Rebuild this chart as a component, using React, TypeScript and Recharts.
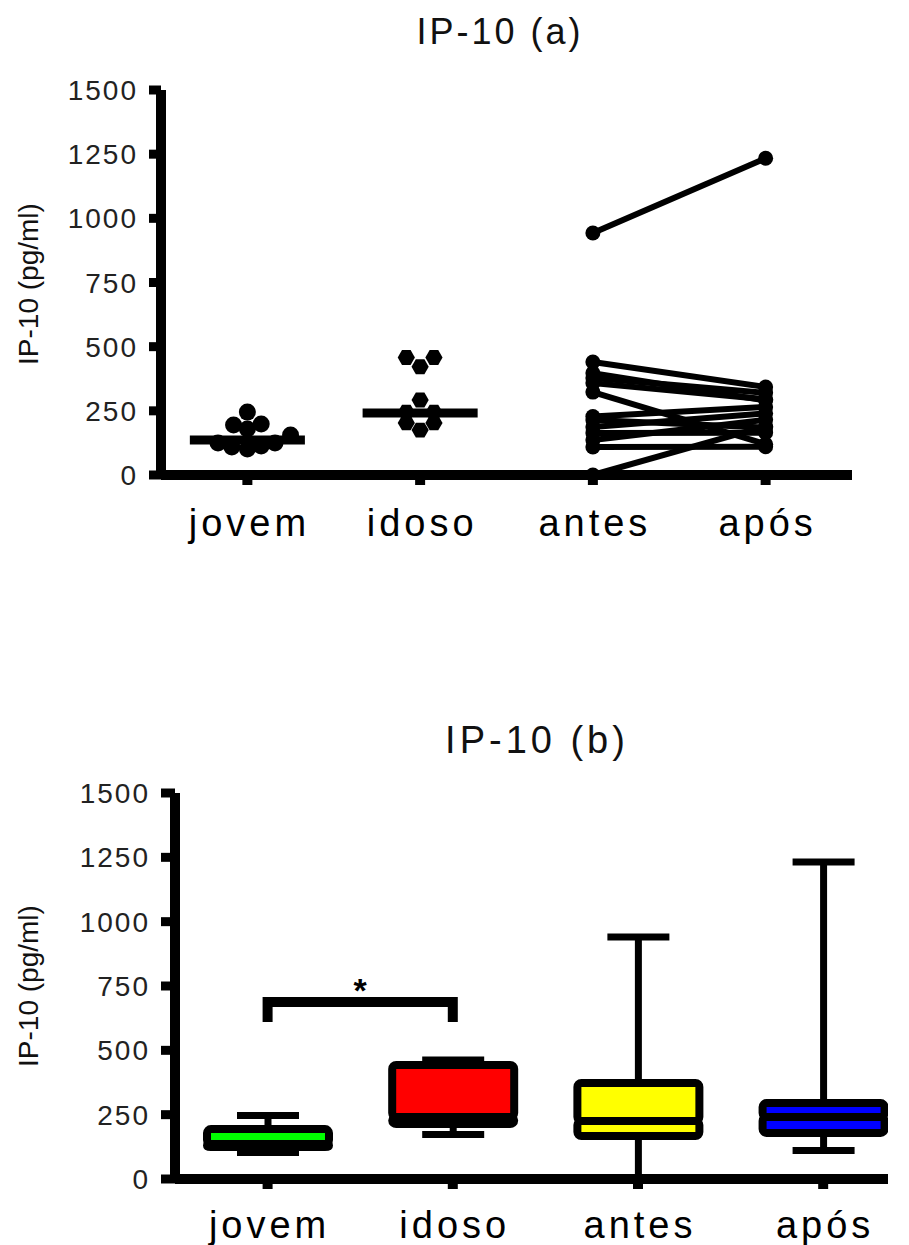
import React from 'react';
import {
  ComposedChart, Scatter, Bar, XAxis, YAxis, ReferenceLine, ReferenceDot,
} from 'recharts';

const FONT = '"Liberation Sans", Arial, sans-serif';

// Shared categories and axis ticks
const CATEGORIES = ['jovem', 'idoso', 'antes', 'após'];
const CAT_POS = [0.5, 1.5, 2.5, 3.5];
const Y_TICKS = [0, 250, 500, 750, 1000, 1250, 1500];

// (a) individual values, jittered around the category centre
const JOVEM_X = [0.5, 0.42, 0.5, 0.58, 0.33, 0.41, 0.5, 0.58, 0.66, 0.75];
const JOVEM_Y = [245, 195, 179, 199, 125, 109, 101, 113, 125, 156];
const IDOSO_X = [1.42, 1.58, 1.5, 1.5, 1.42, 1.58, 1.42, 1.58, 1.5];
const IDOSO_Y = [458, 458, 422, 292, 245, 245, 203, 203, 175];
const MEDIAN_A = [136, 242];

// (a) paired values antes -> após
const ANTES = [943, 440, 397, 378, 358, 323, 228, 214, 187, 164, 136, 109, 0];
const APOS = [1234, 343, 290, 320, 295, 120, 265, 185, 240, 165, 215, 110, 190];

// (b) box plot summaries
const BOX_MIN = [103, 173, 0, 111];
const BOX_Q1 = [124, 214, 167, 179];
const BOX_MED = [136, 241, 225, 241];
const BOX_Q3 = [194, 443, 373, 295];
const BOX_MAX = [247, 462, 940, 1232];
const BOX_COLORS = ['#00ff00', '#ff0000', '#ffff00', '#0000ff'];

// significance bracket jovem vs idoso
const BRACKET_Y = [610, 688];
const STAR_Y = 762;

const jovemPts = JOVEM_X.map((x, i) => ({ x, y: JOVEM_Y[i] }));
const idosoPts = IDOSO_X.map((x, i) => ({ x, y: IDOSO_Y[i] }));
const pairs = ANTES.map((a, i) => [{ x: 2.5, y: a }, { x: 3.5, y: APOS[i] }]);

const boxRows = CATEGORIES.map((name, i) => ({
  name,
  x: CAT_POS[i],
  base: BOX_MIN[i],
  lw: BOX_Q1[i] - BOX_MIN[i],
  lb: BOX_MED[i] - BOX_Q1[i],
  ub: BOX_Q3[i] - BOX_MED[i],
  uw: BOX_MAX[i] - BOX_Q3[i],
}));

const bracketPts = [
  { x: 0.5, y: BRACKET_Y[0] },
  { x: 0.5, y: BRACKET_Y[1] },
  { x: 1.5, y: BRACKET_Y[1] },
  { x: 1.5, y: BRACKET_Y[0] },
];

const catName = (v: number) => CATEGORIES[CAT_POS.indexOf(v)] ?? '';

const CatTick = (p: any) => (
  <text x={p.x + 2} y={p.y} dy="0.71em" textAnchor="middle" fontFamily={FONT}
    fontSize={38} letterSpacing={4} fill="#000">
    {catName(p.payload.value)}
  </text>
);

const NumTick = (p: any) => (
  <text x={p.x} y={p.y} dy="0.36em" textAnchor="end" fontFamily={FONT}
    fontSize={28} letterSpacing={2} fill="#222">
    {p.payload.value}
  </text>
);

const Dot = (p: any) => <circle cx={p.cx} cy={p.cy} r={8.5} fill="#000" />;
const SmallDot = (p: any) => <circle cx={p.cx} cy={p.cy} r={7.5} fill="#000" />;
const Hex = (p: any) => {
  const r = 8.6;
  const h = r * 0.866;
  const pts = [
    [p.cx - r, p.cy], [p.cx - r / 2, p.cy - h], [p.cx + r / 2, p.cy - h],
    [p.cx + r, p.cy], [p.cx + r / 2, p.cy + h], [p.cx - r / 2, p.cy + h],
  ].map((q) => q.join(',')).join(' ');
  return <polygon points={pts} fill="#000" />;
};
const Nothing = () => <g />;

const LowerWhisker = (p: any) => {
  const cx = p.x + p.width / 2;
  return (
    <g>
      <line x1={cx} x2={cx} y1={p.y} y2={p.y + p.height} stroke="#000" strokeWidth={7} />
      <line x1={cx - 31} x2={cx + 31} y1={p.y + p.height} y2={p.y + p.height} stroke="#000" strokeWidth={7} />
    </g>
  );
};
const UpperWhisker = (p: any) => {
  const cx = p.x + p.width / 2;
  return (
    <g>
      <line x1={cx} x2={cx} y1={p.y + p.height} y2={p.y} stroke="#000" strokeWidth={7} />
      <line x1={cx - 31} x2={cx + 31} y1={p.y} y2={p.y} stroke="#000" strokeWidth={7} />
    </g>
  );
};
const BoxPart = (p: any) => (
  <rect x={p.x} y={p.y} width={p.width} height={p.height} rx={4}
    fill={BOX_COLORS[p.index]} stroke="#000" strokeWidth={8} />
);

const axisStyle = { stroke: '#000', strokeWidth: 10 };

const titleStyle = (left: number, top: number, size: number, ls: number): React.CSSProperties => ({
  position: 'absolute', left: left - 200, top, width: 400, textAlign: 'center',
  fontFamily: FONT, fontSize: size, lineHeight: 1, letterSpacing: ls, paddingLeft: ls,
  color: '#111',
});

const yLabelStyle = (cx: number, cy: number): React.CSSProperties => ({
  position: 'absolute', left: cx - 150, top: cy - 15, width: 300, height: 30,
  lineHeight: '30px', textAlign: 'center', transform: 'rotate(-90deg)',
  fontFamily: FONT, fontSize: 28, color: '#111',
});

export default function App() {
  return (
    <div style={{ position: 'absolute', left: 0, top: 0, width: 909, height: 1245, background: '#fff' }}>
      <div style={titleStyle(497, 14, 36, 3)}>IP-10 (a)</div>
      <div style={yLabelStyle(29, 284)}>IP-10 (pg/ml)</div>
      <div style={{ position: 'absolute', left: 0, top: 0 }}>
        <ComposedChart width={909} height={600} margin={{ top: 90, right: 57, bottom: 65, left: 0 }}>
          <XAxis type="number" dataKey="x" domain={[0, 4]} ticks={CAT_POS} interval={0}
            allowDataOverflow height={60} tickSize={10} tickMargin={24}
            axisLine={axisStyle} tickLine={axisStyle} tick={(p: any) => <CatTick {...p} />} />
          <YAxis type="number" dataKey="y" domain={[0, 1500]} ticks={Y_TICKS} interval={0}
            allowDataOverflow width={161} tickSize={12} tickMargin={11}
            axisLine={axisStyle} tickLine={{ stroke: '#000', strokeWidth: 9 }}
            tick={(p: any) => <NumTick {...p} />} />
          {MEDIAN_A.map((m, i) => (
            <ReferenceLine key={'m' + i} ifOverflow="visible"
              segment={[{ x: CAT_POS[i] - 0.333, y: m }, { x: CAT_POS[i] + 0.333, y: m }]}
              stroke="#000" strokeWidth={9} />
          ))}
          <Scatter data={jovemPts} shape={(p: any) => <Dot {...p} />} isAnimationActive={false} />
          <Scatter data={idosoPts} shape={(p: any) => <Hex {...p} />} isAnimationActive={false} />
          {pairs.map((d, i) => (
            <Scatter key={'p' + i} data={d} line={{ stroke: '#000', strokeWidth: 6 }}
              shape={(p: any) => <SmallDot {...p} />} isAnimationActive={false} />
          ))}
        </ComposedChart>
      </div>

      <div style={titleStyle(533, 721, 38, 4)}>IP-10 (b)</div>
      <div style={yLabelStyle(29, 986)}>IP-10 (pg/ml)</div>
      <div style={{ position: 'absolute', left: 0, top: 620 }}>
        <ComposedChart width={909} height={625} data={boxRows}
          margin={{ top: 173, right: 21, bottom: 6, left: 0 }}>
          <XAxis type="number" dataKey="x" domain={[0, 3.85]} ticks={CAT_POS} interval={0}
            allowDataOverflow height={60} tickSize={10} tickMargin={22}
            axisLine={axisStyle} tickLine={axisStyle} tick={(p: any) => <CatTick {...p} />} />
          <YAxis type="number" domain={[0, 1500]} ticks={Y_TICKS} interval={0}
            allowDataOverflow width={175} tickSize={14} tickMargin={11}
            axisLine={axisStyle} tickLine={{ stroke: '#000', strokeWidth: 9 }}
            tick={(p: any) => <NumTick {...p} />} />
          <Bar dataKey="base" stackId="box" barSize={122} shape={Nothing} isAnimationActive={false} />
          <Bar dataKey="lw" stackId="box" barSize={122} shape={(p: any) => <LowerWhisker {...p} />} isAnimationActive={false} />
          <Bar dataKey="lb" stackId="box" barSize={122} shape={(p: any) => <BoxPart {...p} />} isAnimationActive={false} />
          <Bar dataKey="ub" stackId="box" barSize={122} shape={(p: any) => <BoxPart {...p} />} isAnimationActive={false} />
          <Bar dataKey="uw" stackId="box" barSize={122} shape={(p: any) => <UpperWhisker {...p} />} isAnimationActive={false} />
          <Scatter data={bracketPts} dataKey="y" line={{ stroke: '#000', strokeWidth: 10 }}
            shape={Nothing} isAnimationActive={false} />
          <ReferenceDot x={1.0} y={STAR_Y} ifOverflow="visible"
            shape={(p: any) => (
              <text x={p.cx} y={p.cy} dy="0.55em" textAnchor="middle" fontFamily={FONT}
                fontSize={34} fontWeight="bold" fill="#000">*</text>
            )} />
        </ComposedChart>
      </div>
    </div>
  );
}
